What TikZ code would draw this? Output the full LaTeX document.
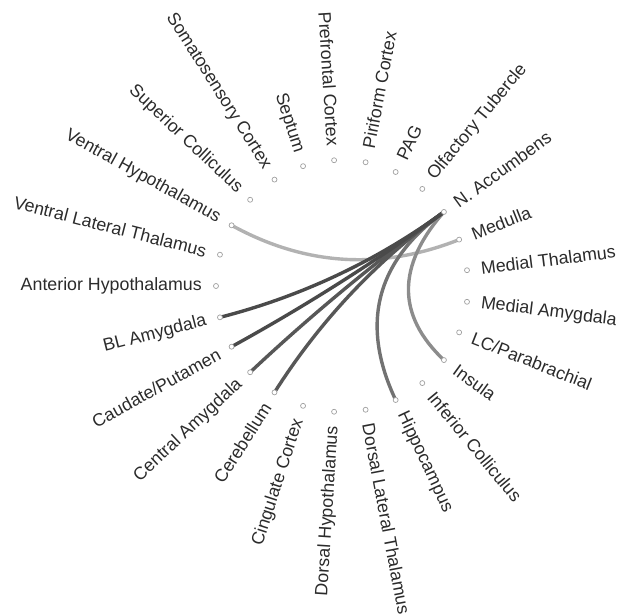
\documentclass[tikz,border=0pt]{standalone}
\usepackage{fontspec}
\setmainfont{Liberation Sans}
\usepackage{tikz}
\usetikzlibrary{calc}
\definecolor{labeltext}{HTML}{2B2B2B}
\definecolor{dotline}{HTML}{A0A0A0}
\definecolor{linkA}{HTML}{4A4A4A}
\definecolor{linkB}{HTML}{575757}
\definecolor{linkC}{HTML}{727272}
\definecolor{linkD}{HTML}{8C8C8C}
\definecolor{linkE}{HTML}{B2B2B2}

\begin{document}
\begin{tikzpicture}[x=1pt, y=1pt,
        lbl/.style={inner sep=0pt, text=labeltext,
          font=\fontsize{17.8}{20}\selectfont},
        lblright/.style={lbl, anchor=west},
        lblleft/.style={lbl, anchor=east},
        dotnode/.style={circle, draw=dotline, fill=white, line width=0.7pt,
          inner sep=0pt, minimum size=5pt},
        link/.style={line width=3.4pt},
      ]
      \useasboundingbox (-342,-327) rectangle (284,286);
      \coordinate (ctr) at (0,0);
      \coordinate (insctr) at (31,-7);

      % regions on the right half, text reading outwards
      \foreach \nm/\ang/\txt in {medthal/7.2/Medial Thalamus, medulla/21.6/Medulla,
          nacc/36/N. Accumbens, olftub/50.4/Olfactory Tubercle, pag/64.8/PAG,
          pirif/79.2/Piriform Cortex, dlthal/280.8/Dorsal Lateral Thalamus,
          hippo/295.2/Hippocampus, infcol/309.6/Inferior Colliculus,
          insula/324/Insula, lcpb/338.4/{LC/Parabrachial}, medamy/352.8/Medial Amygdala}{
        \coordinate (\nm) at (\ang:126);
        \node[lblright, rotate=\ang] (\nm-lbl) at (\ang:140) {\txt};
      }
      % regions on the left half, text reading inwards
      \foreach \nm/\ang/\txt in {pfc/93.6/Prefrontal Cortex, septum/108/Septum,
          somato/122.4/Somatosensory Cortex, supcol/136.8/Superior Colliculus,
          venthyp/151.2/Ventral Hypothalamus, vlthal/165.6/Ventral Lateral Thalamus,
          anthyp/180/Anterior Hypothalamus, blamy/194.4/BL Amygdala,
          caudate/208.8/{Caudate/Putamen}, centamy/223.2/Central Amygdala,
          cereb/237.6/Cerebellum, cingul/252/Cingulate Cortex,
          dorshyp/266.4/Dorsal Hypothalamus}{
        \coordinate (\nm) at (\ang:126);
        \node[lblleft, rotate=\ang-180] (\nm-lbl) at (\ang:140) {\txt};
      }

      % bundled links
      \draw[link, linkE] (venthyp) .. controls ($(venthyp)!0.667!(ctr)$)
        and ($(medulla)!0.667!(ctr)$) .. (medulla);
      \draw[link, linkD] (nacc) .. controls ($(nacc)!0.667!(insctr)$)
        and ($(insula)!0.667!(insctr)$) .. (insula);
      \foreach \tgt/\col in {hippo/linkC, cereb/linkB, centamy/linkB,
          caudate/linkA, blamy/linkA}{
        \draw[link, \col] (nacc) .. controls ($(nacc)!0.667!(ctr)$)
          and ($(\tgt)!0.667!(ctr)$) .. (\tgt);
      }

      \foreach \nm in {medthal, medulla, nacc, olftub, pag, pirif, pfc, septum,
          somato, supcol, venthyp, vlthal, anthyp, blamy, caudate, centamy,
          cereb, cingul, dorshyp, dlthal, hippo, infcol, insula, lcpb, medamy}{
        \node[dotnode] (\nm-dot) at (\nm) {};
      }
    \end{tikzpicture}
\end{document}
